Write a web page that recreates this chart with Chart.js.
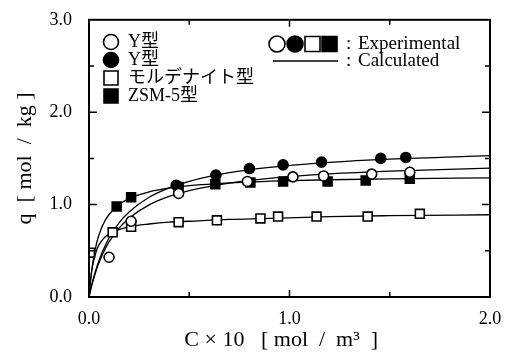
<!DOCTYPE html>
<html>
<head>
<meta charset="utf-8">
<script src="https://cdn.jsdelivr.net/npm/chart.js@4.4.1/dist/chart.umd.min.js"></script>
<style>
  html, body { margin: 0; padding: 0; background: #fff; }
  #wrap { width: 511px; height: 359px; }
</style>
</head>
<body>
<div id="wrap"><canvas id="chart" width="511" height="359"></canvas></div>
<script>
// experimental points, C x 10 [mol/m3] vs q [mol/kg]
const yOpenC = [0.10, 0.21, 0.447, 0.79, 1.017, 1.17, 1.41, 1.60];
const yOpenQ = [0.43, 0.82, 1.12, 1.25, 1.30, 1.31, 1.33, 1.35];

const yFillC = [0.435, 0.633, 0.80, 0.968, 1.16, 1.455, 1.58];
const yFillQ = [1.21, 1.32, 1.39, 1.43, 1.46, 1.50, 1.51];

const mordC = [0.005, 0.118, 0.21, 0.447, 0.638, 0.855, 0.943, 1.135, 1.39, 1.65];
const mordQ = [0.48, 0.70, 0.76, 0.81, 0.83, 0.85, 0.87, 0.87, 0.87, 0.90];

const zsmC = [0.138, 0.21, 0.447, 0.63, 0.805, 0.968, 1.19, 1.38, 1.60];
const zsmQ = [0.98, 1.08, 1.19, 1.22, 1.24, 1.25, 1.25, 1.26, 1.28];

// calculated curves
const calcC = [0, 0.01, 0.02, 0.04, 0.06, 0.08, 0.1, 0.15, 0.2, 0.3, 0.4, 0.5, 0.7, 0.9, 1.2, 1.5, 2.0];
const calcYOpen = [0, 0.093, 0.175, 0.313, 0.426, 0.518, 0.596, 0.746, 0.853, 0.997, 1.088, 1.151, 1.233, 1.284, 1.332, 1.362, 1.394];
const calcYFill = [0, 0.098, 0.185, 0.332, 0.453, 0.553, 0.638, 0.802, 0.920, 1.079, 1.181, 1.252, 1.345, 1.403, 1.457, 1.492, 1.529];
const calcMord = [0, 0.22, 0.36, 0.52, 0.60, 0.65, 0.68, 0.73, 0.76, 0.79, 0.81, 0.82, 0.84, 0.85, 0.87, 0.88, 0.89];
const calcZsm = [0, 0.228, 0.389, 0.601, 0.734, 0.826, 0.893, 1.001, 1.065, 1.138, 1.179, 1.205, 1.236, 1.253, 1.269, 1.279, 1.290];

const xTicks = ['0.0', '1.0', '2.0'];
const yTicks = ['0.0', '1.0', '2.0', '3.0'];
const legendNames = ['Y型', 'Y型', 'モルデナイト型', 'ZSM-5型'];

const SERIF = '"Liberation Serif", "Noto Sans CJK JP", serif';

const pts = (xs, ys) => xs.map((x, i) => ({ x, y: ys[i] }));

function lineSet(ys) {
    return {
        type: 'line', data: pts(calcC, ys), showLine: true, borderColor: '#000',
        borderWidth: 1.3, pointRadius: 0, cubicInterpolationMode: 'monotone', fill: false, order: 2
    };
}
function markSet(xs, ys, style, filled, r) {
    return {
        data: pts(xs, ys), showLine: false, pointStyle: style, pointRadius: r,
        pointBackgroundColor: filled ? '#000' : '#fff', pointBorderColor: '#000',
        pointBorderWidth: 1.6, order: 1
    };
}

// frame, inward ticks, legend box
const decor = {
    id: 'decor',
    afterDatasetsDraw(chart) {
        const { ctx, chartArea: a, scales } = chart;
        ctx.save();
        ctx.strokeStyle = '#000';
        ctx.lineWidth = 2;
        ctx.strokeRect(a.left, a.top, a.right - a.left, a.bottom - a.top);
        ctx.lineWidth = 1.5;
        ctx.beginPath();
        scales.x.ticks.forEach(t => {
            const px = scales.x.getPixelForValue(t.value);
            const len = Number.isInteger(t.value) ? 7 : 5;
            if (px <= a.left + 1 || px >= a.right - 1) return;
            ctx.moveTo(px, a.bottom); ctx.lineTo(px, a.bottom - len);
            ctx.moveTo(px, a.top); ctx.lineTo(px, a.top + len);
        });
        scales.y.ticks.forEach(t => {
            const py = scales.y.getPixelForValue(t.value);
            const len = Number.isInteger(t.value) ? 8 : 5;
            if (py <= a.top + 1 || py >= a.bottom - 1) return;
            ctx.moveTo(a.left, py); ctx.lineTo(a.left + len, py);
            ctx.moveTo(a.right, py); ctx.lineTo(a.right - len, py);
        });
        ctx.stroke();

        // left legend
        const rows = [42, 60, 78, 96];
        ctx.lineWidth = 1.6;
        rows.forEach((y, i) => {
            ctx.beginPath();
            if (i < 2) {
                ctx.arc(111, y, 7.5, 0, Math.PI * 2);
            } else {
                ctx.rect(104, y - 7, 14, 14);
            }
            ctx.fillStyle = (i % 2 === 1) ? '#000' : '#fff';
            ctx.fill();
            ctx.stroke();
            ctx.fillStyle = '#000';
            ctx.font = '18px ' + SERIF;
            ctx.textBaseline = 'middle';
            ctx.textAlign = 'left';
            ctx.fillText(legendNames[i], 128, y);
        });

        // right legend
        const ly = 44;
        ctx.beginPath(); ctx.arc(277, ly, 8, 0, Math.PI * 2);
        ctx.fillStyle = '#fff'; ctx.fill(); ctx.stroke();
        ctx.beginPath(); ctx.arc(295, ly, 8, 0, Math.PI * 2);
        ctx.fillStyle = '#000'; ctx.fill(); ctx.stroke();
        ctx.beginPath(); ctx.rect(305, ly - 7.5, 15, 15);
        ctx.fillStyle = '#fff'; ctx.fill(); ctx.stroke();
        ctx.beginPath(); ctx.rect(322, ly - 7.5, 15, 15);
        ctx.fillStyle = '#000'; ctx.fill(); ctx.stroke();
        ctx.beginPath(); ctx.lineWidth = 1.5;
        ctx.moveTo(273, 61); ctx.lineTo(338, 61); ctx.stroke();
        ctx.fillStyle = '#000';
        ctx.font = '19px ' + SERIF;
        ctx.textBaseline = 'middle';
        ctx.fillText(':', 346, ly);
        ctx.fillText('Experimental', 358, ly);
        ctx.fillText(':', 346, 61);
        ctx.fillText('Calculated', 358, 61);
        ctx.restore();
    }
};

new Chart(document.getElementById('chart'), {
    type: 'scatter',
    data: {
        datasets: [
            lineSet(calcYOpen), lineSet(calcYFill), lineSet(calcMord), lineSet(calcZsm),
            markSet(yOpenC, yOpenQ, 'circle', false, 5),
            markSet(yFillC, yFillQ, 'circle', true, 5),
            markSet(mordC, mordQ, 'rect', false, 6.3),
            markSet(zsmC, zsmQ, 'rect', true, 6.3)
        ]
    },
    options: {
        responsive: false,
        animation: false,
        events: [],
        layout: { padding: { top: 13, right: 21, left: 0, bottom: 0 } },
        plugins: { legend: { display: false }, tooltip: { enabled: false } },
        scales: {
            x: {
                type: 'linear', min: 0, max: 2,
                afterFit: s => { s.height = 62; },
                grid: { display: false }, border: { display: false },
                ticks: {
                    stepSize: 0.5, padding: 3, color: '#000', maxRotation: 0,
                    font: { family: SERIF, size: 18 },
                    callback: v => Number.isInteger(v) ? xTicks[v] : ''
                },
                title: {
                    // trailing spaces nudge the centred title a little left, as in the original
                    display: true, text: 'C × 10   [ mol  /  m³  ]   ', color: '#000',
                    font: { family: SERIF, size: 22 }, padding: { top: 0, bottom: 6 }
                }
            },
            y: {
                type: 'linear', min: 0, max: 3,
                afterFit: s => { s.width = 89; },
                grid: { display: false }, border: { display: false },
                ticks: {
                    stepSize: 0.5, padding: 9, color: '#000',
                    font: { family: SERIF, size: 18 },
                    callback: v => Number.isInteger(v) ? yTicks[v] : ''
                },
                title: {
                    display: true, text: 'q  [ mol  /  kg ]', color: '#000',
                    font: { family: SERIF, size: 22 }, padding: { top: 12, bottom: 0 }
                }
            }
        }
    },
    plugins: [decor]
});
</script>
</body>
</html>
